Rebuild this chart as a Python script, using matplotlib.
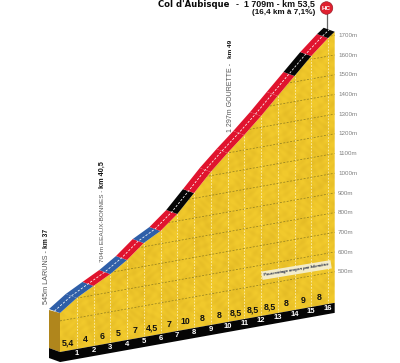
import numpy as np
import matplotlib
matplotlib.use("Agg")
import matplotlib.pyplot as plt
from matplotlib.transforms import Affine2D
from matplotlib.patches import Polygon, Circle

km = [0, 1, 2, 3, 4, 5, 6, 7, 8, 9, 10, 11, 12, 13, 14, 15, 16, 16.4]
elevation = [540, 601, 647, 692, 748, 819, 865, 936, 1027, 1119, 1200, 1276, 1357, 1444, 1530, 1616, 1692, 1718]
grade_labels = ["5,4", "4", "6", "5", "7", "4,5", "7", "10", "8", "8", "8,5", "8,5", "8,5", "8", "9", "8"]
segment_colors = ["blue", "blue", "red", "blue", "red", "blue", "red", "black", "red", "red", "red", "red", "red", "red",
                  "black", "red", "black"]
elev_ticks = [500, 600, 700, 800, 900, 1000, 1100, 1200, 1300, 1400, 1500, 1600, 1700]
km_ticks = list(range(1, 17))
BASE = 342
COL = {"blue": "#2f5fa8", "red": "#e0142e", "black": "#060606"}

fig = plt.figure(figsize=(4, 3.63), dpi=100)
ax = fig.add_axes([0, 0, 1, 1])
ax.set_xlim(0, 400)
ax.set_ylim(363, 0)
ax.axis("off")

# oblique projection (km, metres) -> reference pixels
sx, sy, slope = 16.75, 0.197, 0.179 * 16.75
proj = Affine2D(np.array([[sx, 0, 60], [-slope, -sy, 352 + sy * BASE], [0, 0, 1]])) + ax.transData
depth = Affine2D(np.array([[sx, 0, 60 - 11], [-slope, -sy, 352 + sy * BASE - 4], [0, 0, 1]])) + ax.transData
mid = Affine2D(np.array([[sx, 0, 60 - 5.5], [-slope, -sy, 352 + sy * BASE - 2], [0, 0, 1]])) + ax.transData

# yellow face
poly_pts = list(zip(km, elevation)) + [(km[-1], BASE), (0, BASE)]
face = Polygon(poly_pts, closed=True, transform=proj, fc="#f1c92c", ec="none", zorder=1)
ax.add_patch(face)

# relief shading texture clipped to the face
yy, xx = np.mgrid[0:363, 0:400]
tex = (np.sin(xx * 0.53 + 1.7 * np.sin(yy * 0.23)) * np.sin(yy * 0.47 + 1.3 * np.sin(xx * 0.17))
       + 0.8 * np.sin(xx * 0.13 + 2 * np.sin(yy * 0.071)) * np.cos(yy * 0.11 + 2 * np.sin(xx * 0.043)))
rgb = np.zeros((363, 400, 4))
rgb[..., 0] = 0.70
rgb[..., 1] = 0.52
rgb[..., 2] = 0.05
rgb[..., 3] = np.clip(0.07 + 0.07 * tex, 0, 0.25)
im = ax.imshow(rgb, extent=(0, 400, 363, 0), zorder=1.1, aspect="auto", interpolation="bilinear")
im.set_clip_path(face)
ax.set_xlim(0, 400)
ax.set_ylim(363, 0)

# elevation grid
for e in elev_ticks:
    l, = ax.plot([0, km[-1]], [e, e], transform=proj, color="#94801f", lw=0.55, ls=(0, (2.5, 2)), zorder=1.3)
    l.set_clip_path(face)
for k in km_ticks:
    l, = ax.plot([k, k], [BASE, 1800], transform=proj, color="#fff7cf", lw=0.5, ls=(0, (2.5, 2)), zorder=1.4)
    l.set_clip_path(face)

# left side face and black strips
ax.add_patch(Polygon([(49, 310), (60, 313), (60, 352), (49, 348)], closed=True, fc="#b0861c", ec="none", zorder=1.5))
ax.add_patch(Polygon([(0, BASE), (km[-1], BASE), (km[-1], BASE - 51), (0, BASE - 51)], closed=True,
                     transform=proj, fc="#050505", ec="none", zorder=2))
ax.add_patch(Polygon([(49, 348), (60, 352), (60, 362), (49, 358)], closed=True, fc="#050505", ec="none", zorder=2))

# road ribbon
for i, c in enumerate(segment_colors):
    lo = proj.transform([(km[i], elevation[i]), (km[i + 1], elevation[i + 1])])
    hi = depth.transform([(km[i + 1], elevation[i + 1]), (km[i], elevation[i])])
    pts = ax.transData.inverted().transform(np.vstack([lo, hi]))
    ax.add_patch(Polygon(pts, closed=True, fc=COL[c], ec="none", zorder=3))
ax.plot(km, elevation, transform=mid, color="white", lw=0.55, ls=(0, (3, 2)), zorder=4)

# labels
sans = "Liberation Sans"
for k in km_ticks:
    ax.text(k, BASE - 25, str(k), transform=proj, color="white", fontsize=5.5, fontweight="bold",
            family=sans, ha="center", va="center", zorder=5)
for i, g in enumerate(grade_labels):
    ax.text(i + 0.5, BASE + 39, g, transform=proj, color="#111111", fontsize=6.3, fontweight="bold",
            family=sans, ha="center", va="center", zorder=5)
for e in elev_ticks:
    ax.text(338, (352 - 0.179 * 274) - (e - BASE) * sy, f"{e}m", color="#808080", fontsize=4.5,
            family=sans, ha="left", va="center", zorder=5)

ax.text(158, 4.3, "Col d'Aubisque", fontsize=6.1, fontweight="bold", color="#0a0a0a",
        family="DejaVu Sans", ha="left", va="center")
ax.text(315, 4.3, "-  1 709m - km 53,5", fontsize=6.4, fontweight="bold", color="#111111",
        family=sans, ha="right", va="center")
ax.text(315, 13, "(16,4 km à 7,1%)", fontsize=5.9, fontweight="bold", color="#111111",
        family=sans, ha="right", va="center")


def climb_label(x, y0, gray, gsize, y1, bold, bsize):
    ax.text(x, y0, gray, rotation=90, fontsize=gsize, color="#555555", family=sans, ha="center", va="bottom")
    ax.text(x, y1, bold, rotation=90, fontsize=bsize, color="#111111", fontweight="bold", family=sans,
            ha="center", va="top")


climb_label(46, 304, "545m LARUNS -", 5.2, 229, "km 37", 4.8)
climb_label(102, 262, "704m EEAUX-BONNES -", 4.6, 161, "km 40,5", 5.2)
climb_label(230, 132, "1 297m GOURETTE -", 5.0, 40, "km 49", 4.6)

ax.text(296.5, 270, "Pourcentage moyen par kilomètre", fontsize=3.0, fontweight="bold", style="italic",
        color="#1c2440", family=sans, ha="center", va="center", rotation=9.4, zorder=6,
        bbox=dict(fc="#f4f1dc", ec="none", pad=1.6, alpha=0.9))

# summit marker
ax.plot([326.5, 326.5], [13, 29], color="#666666", lw=0.9, zorder=2.5)
ax.add_patch(Circle((326.5, 8), 6.3, fc="#e0202f", ec="#8a1520", lw=0.4, zorder=6))
ax.text(326.5, 8.2, "HC", color="white", fontsize=4.6, fontweight="bold", family=sans,
        ha="center", va="center", zorder=7)

fig.savefig("out.png", dpi=100)
